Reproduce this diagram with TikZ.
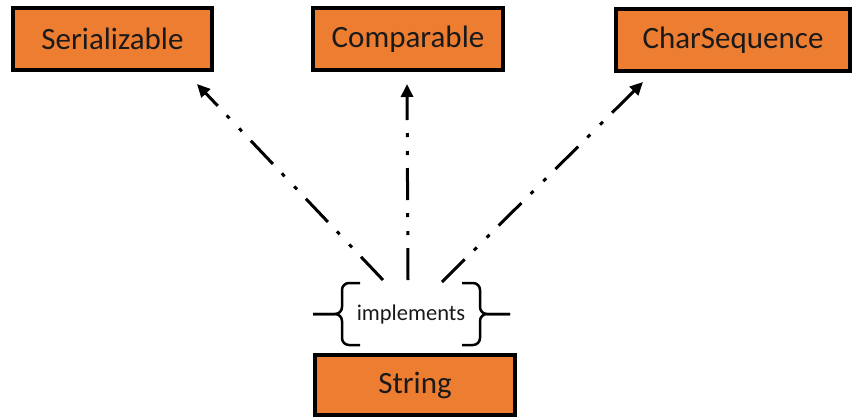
\documentclass[tikz,border=0pt]{standalone}
\usepackage{fontspec}
\setmainfont{Carlito}
\usetikzlibrary{arrows.meta,calc}
\definecolor{boxorange}{HTML}{ED7D31}
\definecolor{inktext}{HTML}{1A1A1A}
\begin{document}
\begin{tikzpicture}[x=1pt,y=-1pt,
  iface/.style={draw=black,line width=4pt,fill=boxorange,inner sep=0pt,
    minimum height=62pt,text=inktext,font=\fontsize{31}{37}\selectfont},
  realize/.style={line width=3pt,
    dash pattern=on 32pt off 13pt on 4pt off 14pt on 4pt off 13pt,
    -{Triangle[length=13pt,width=12pt]}},
  bracket/.style={line width=2.5pt,rounded corners=7pt}]
\useasboundingbox (0,0) rectangle (852,418);

% interfaces
\node[iface,minimum width=199pt] (ser) at (112.5,39) {Serializable};
\node[iface,minimum width=190pt] (cmp) at (408,39) {Comparable};
\node[iface,minimum width=234pt] (chs) at (733,40) {CharSequence};

% implementing class
\node[iface,minimum width=200pt,minimum height=60pt] (str) at (415,385) {String};

% relation label with its brackets
\node[text=inktext,font=\fontsize{22.5}{27}\selectfont] (impl) at (411,314) {implements};
\begin{scope}[shift={(impl.center)}]
  \draw[bracket] (-51,-31) -- (-69,-31) -- (-69,0) -- (-98,0);
  \draw[bracket] (-51,31) -- (-69,31) -- (-69,0) -- (-98,0);
  \draw[bracket] (51,-31) -- (69,-31) -- (69,0) -- (99,0);
  \draw[bracket] (51,31) -- (69,31) -- (69,0) -- (99,0);
\end{scope}

% arrow ends
\coordinate (fromSer) at ($(impl)+(-28,-34)$);
\coordinate (fromCmp) at ($(impl)+(-3,-34)$);
\coordinate (fromChs) at ($(impl)+(31,-32)$);
\coordinate (toSer) at ($(ser.south east)+(-17,12)$);
\coordinate (toCmp) at ($(cmp.south)+(-1,12)$);
\coordinate (toChs) at ($(chs.south west)+(29,9)$);

\draw[realize] (fromSer) -- (toSer);
\draw[realize] (fromCmp) -- (toCmp);
\draw[realize] (fromChs) -- (toChs);
\end{tikzpicture}
\end{document}
